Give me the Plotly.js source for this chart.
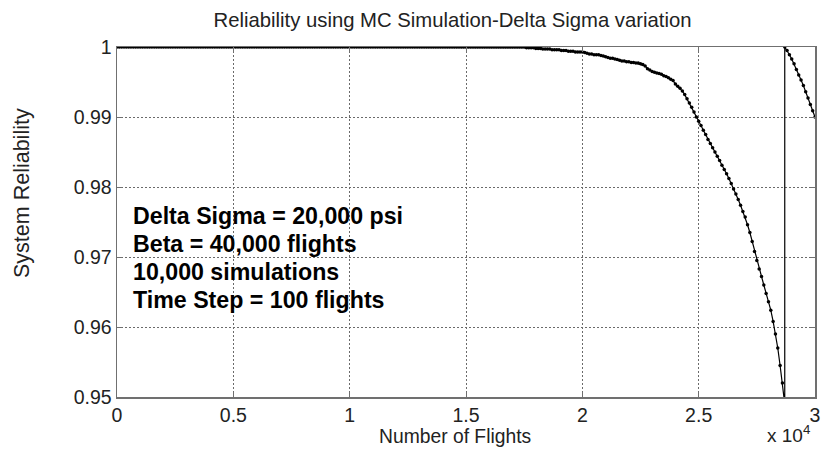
<!DOCTYPE html>
<html>
<head>
<meta charset="utf-8">
<script src="https://cdn.plot.ly/plotly-3.0.1.min.js"></script>
<style>
  html, body { margin: 0; padding: 0; background: #ffffff; }
  #chart { width: 822px; height: 466px; }
</style>
</head>
<body>
<div id="chart"></div>
<script>
// Number of flights (time step = 100 flights)
const flights = [
  0,100,200,300,400,500,600,700,800,900,
  1000,1100,1200,1300,1400,1500,1600,1700,1800,1900,
  2000,2100,2200,2300,2400,2500,2600,2700,2800,2900,
  3000,3100,3200,3300,3400,3500,3600,3700,3800,3900,
  4000,4100,4200,4300,4400,4500,4600,4700,4800,4900,
  5000,5100,5200,5300,5400,5500,5600,5700,5800,5900,
  6000,6100,6200,6300,6400,6500,6600,6700,6800,6900,
  7000,7100,7200,7300,7400,7500,7600,7700,7800,7900,
  8000,8100,8200,8300,8400,8500,8600,8700,8800,8900,
  9000,9100,9200,9300,9400,9500,9600,9700,9800,9900,
  10000,10100,10200,10300,10400,10500,10600,10700,10800,10900,
  11000,11100,11200,11300,11400,11500,11600,11700,11800,11900,
  12000,12100,12200,12300,12400,12500,12600,12700,12800,12900,
  13000,13100,13200,13300,13400,13500,13600,13700,13800,13900,
  14000,14100,14200,14300,14400,14500,14600,14700,14800,14900,
  15000,15100,15200,15300,15400,15500,15600,15700,15800,15900,
  16000,16100,16200,16300,16400,16500,16600,16700,16800,16900,
  17000,17100,17200,17300,17400,17500,17600,17700,17800,17900,
  18000,18100,18200,18300,18400,18500,18600,18700,18800,18900,
  19000,19100,19200,19300,19400,19500,19600,19700,19800,19900,
  20000,20100,20200,20300,20400,20500,20600,20700,20800,20900,
  21000,21100,21200,21300,21400,21500,21600,21700,21800,21900,
  22000,22100,22200,22300,22400,22500,22600,22700,22800,22900,
  23000,23100,23200,23300,23400,23500,23600,23700,23800,23900,
  24000,24100,24200,24300,24400,24500,24600,24700,24800,24900,
  25000,25100,25200,25300,25400,25500,25600,25700,25800,25900,
  26000,26100,26200,26300,26400,26500,26600,26700,26800,26900,
  27000,27100,27200,27300,27400,27500,27600,27700,27800,27900,
  28000,28100,28200,28300,28400,28500,28600,28700,
  28700,28800,28900,29000,29100,29200,29300,29400,29500,29600,
  29700,29800,29900,30000
];

// System reliability
const reliability = [
  1,1,1,1,1,1,1,1,1,1,
  1,1,1,1,1,1,1,1,1,1,
  1,1,1,1,1,1,1,1,1,1,
  1,1,1,1,1,1,1,1,1,1,
  1,1,1,1,1,1,1,1,1,1,
  1,1,1,1,1,1,1,1,1,1,
  1,1,1,1,1,1,1,1,1,1,
  1,1,1,1,1,1,1,1,1,1,
  1,1,1,1,1,1,1,1,1,1,
  1,1,1,1,1,1,1,1,1,1,
  1,1,1,1,1,1,1,1,1,1,
  1,1,1,1,1,1,1,1,1,1,
  1,1,1,1,1,1,1,1,1,1,
  1,1,1,1,1,1,1,1,1,1,
  1,1,1,1,1,1,1,1,1,1,
  1,1,1,1,1,1,1,1,1,1,
  1,1,1,1,1,1,1,1,1,1,
  1,1,1,1,1,1,0.9999,0.9999,0.9999,0.9999,
  0.9998,0.9998,0.9998,0.9997,0.9997,0.9997,0.9997,0.9996,0.9996,0.9996,
  0.9996,0.9995,0.9995,0.9995,0.9994,0.9994,0.9994,0.9993,0.9993,0.9993,
  0.9993,0.9992,0.9991,0.9990,0.9990,0.9989,0.9989,0.9989,0.9988,0.9987,
  0.9986,0.9985,0.9984,0.9984,0.9983,0.9982,0.9981,0.9980,0.9980,0.9979,
  0.9979,0.9978,0.9978,0.9977,0.9977,0.9976,0.9975,0.9973,0.9969,0.9967,
  0.9965,0.9964,0.9963,0.9962,0.9961,0.9959,0.9958,0.9956,0.9954,0.9952,
  0.9947,0.9944,0.9941,0.9937,0.9932,0.9926,0.9920,0.9914,0.9907,0.9900,
  0.9894,0.9888,0.9881,0.9875,0.9868,0.9862,0.9856,0.9850,0.9844,0.9838,
  0.9831,0.9825,0.9819,0.9812,0.9805,0.9797,0.9790,0.9782,0.9774,0.9765,
  0.9757,0.9746,0.9735,0.9722,0.9708,0.9695,0.9683,0.9672,0.9660,0.9648,
  0.9636,0.9624,0.9608,0.9590,0.9570,0.9545,0.9520,0.9490,
  1.0000,0.9995,0.9989,0.9983,0.9976,0.9968,0.9960,0.9953,0.9945,0.9936,
  0.9927,0.9918,0.9909,0.9900
];

const xTickVals = [0, 5000, 10000, 15000, 20000, 25000, 30000];
const xTickText = ['0', '0.5', '1', '1.5', '2', '2.5', '3'];
const yTickVals = [0.95, 0.96, 0.97, 0.98, 0.99, 1];
const yTickText = ['0.95', '0.96', '0.97', '0.98', '0.99', '1'];

const chartTitle = 'Reliability using MC Simulation-Delta Sigma variation';
const xTitle = 'Number of Flights';
const yTitle = 'System Reliability';
const noteLines = ['Delta Sigma = 20,000 psi', 'Beta = 40,000 flights', '10,000 simulations', 'Time Step = 100 flights'];
const exponentLabel = 'x 10<sup>4</sup>';

const FONT = 'Liberation Sans, Arial, Helvetica, sans-serif';
const TEXT = '#222222';

// plot area in pixels (layout only)
const PL = 117, PR = 815, PT = 47, PB = 397;
const px2paperX = p => (p - PL) / (PR - PL);
const px2paperY = p => (PB - p) / (PB - PT);

const trace = {
  x: flights,
  y: reliability,
  type: 'scatter',
  mode: 'lines+markers',
  line: { color: '#000000', width: 1.2 },
  marker: { color: '#000000', size: 3.5 },
  hoverinfo: 'x+y',
  showlegend: false
};

const axisCommon = {
  showline: true,
  linecolor: '#707070',
  linewidth: 1.5,
  mirror: 'ticks',
  ticks: 'inside',
  ticklen: 5,
  tickwidth: 1,
  tickcolor: '#707070',
  showgrid: true,
  gridcolor: '#6a6a6a',
  griddash: '2px,2px',
  gridwidth: 1,
  zeroline: false,
  tickfont: { family: FONT, size: 19.5, color: TEXT }
};

const annotations = [];
noteLines.forEach((line, i) => {
  annotations.push({
    text: line,
    xref: 'paper', yref: 'paper',
    x: px2paperX(131), y: px2paperY(215.5 + i * 28.3),
    xanchor: 'left', yanchor: 'middle',
    align: 'left',
    showarrow: false,
    font: { family: FONT, size: 23.2, color: '#000000', weight: 'bold' }
  });
});
annotations.push({
  text: xTitle,
  xref: 'paper', yref: 'paper',
  x: px2paperX(455), y: px2paperY(436),
  xanchor: 'center', yanchor: 'middle',
  showarrow: false,
  font: { family: FONT, size: 19.3, color: TEXT }
});
annotations.push({
  text: yTitle,
  xref: 'paper', yref: 'paper',
  x: px2paperX(22), y: px2paperY(193),
  xanchor: 'center', yanchor: 'middle',
  textangle: -90,
  showarrow: false,
  font: { family: FONT, size: 21.5, color: TEXT }
});
annotations.push({
  text: exponentLabel,
  xref: 'paper', yref: 'paper',
  x: px2paperX(765), y: px2paperY(434),
  xanchor: 'left', yanchor: 'middle',
  showarrow: false,
  font: { family: FONT, size: 19, color: TEXT }
});

const layout = {
  width: 822,
  height: 466,
  margin: { l: PL, r: 822 - PR, t: PT, b: 466 - PB },
  paper_bgcolor: '#ffffff',
  plot_bgcolor: '#ffffff',
  font: { family: FONT, color: TEXT },
  title: {
    text: chartTitle,
    font: { family: FONT, size: 20.3, color: TEXT },
    xref: 'container', x: 452.5 / 822, xanchor: 'center',
    yref: 'container', y: 1 - 19.5 / 466, yanchor: 'middle'
  },
  xaxis: Object.assign({}, axisCommon, {
    range: [0, 30000],
    tickmode: 'array',
    tickvals: xTickVals,
    ticktext: xTickText
  }),
  yaxis: Object.assign({}, axisCommon, {
    range: [0.95, 1],
    tickmode: 'array',
    tickvals: yTickVals,
    ticktext: yTickText
  }),
  annotations: annotations
};

Plotly.newPlot('chart', [trace], layout, { displayModeBar: false, staticPlot: true });
</script>
</body>
</html>
